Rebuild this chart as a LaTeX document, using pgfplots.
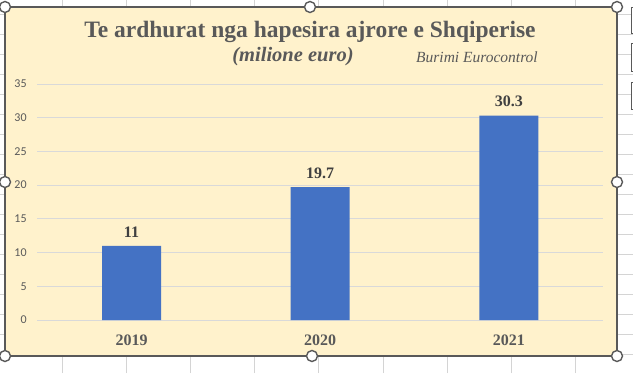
\documentclass[border=0pt]{standalone}
\usepackage{fontspec}
\setmainfont{Liberation Serif}
\newfontfamily\calibri{Carlito}
\usepackage{pgfplots}
\pgfplotsset{compat=1.18}
\definecolor{chartbg}{HTML}{FFF2CC}
\definecolor{txtgray}{HTML}{595959}
\definecolor{lblgray}{HTML}{404040}
\definecolor{barblue}{HTML}{4472C4}
\definecolor{gridc}{HTML}{D9D9D9}
\definecolor{sheetgrid}{HTML}{D4D4D4}
\definecolor{frame}{HTML}{595959}
\begin{document}
\begin{tikzpicture}[x=1pt,y=1pt]
\useasboundingbox (0,0) rectangle (633,373);
\fill[white] (0,0) rectangle (633,373);
% spreadsheet gridlines
\foreach \k in {-1,...,9} {\draw[sheetgrid,line width=0.8pt] ({62+64.2*\k},0) -- ({62+64.2*\k},373);}
\foreach \k in {0,...,18} {\draw[sheetgrid,line width=0.8pt] (0,{373-14-20*\k}) -- (633,{373-14-20*\k});}
% right-side boxes
\foreach \a/\b in {7/33,43/71,82/109} {\fill[white] (631,{373-\a}) rectangle (640,{373-\b}); \draw[frame,line width=0.9pt] (640,{373-\a}) -- (631,{373-\a}) -- (631,{373-\b}) -- (640,{373-\b});}
% chart area
\fill[chartbg] (5,17) rectangle (617,366);
\begin{axis}[
  at={(131.5pt,53pt)}, anchor=origin,
  scale only axis, width=566pt, height=236pt,
  xmin=-0.5, xmax=2.5, ymin=0, ymax=35,
  ytick={0,5,...,35},
  xtick=data, xticklabels={2019,2020,2021},
  ymajorgrids, grid style={gridc, line width=0.8pt},
  axis line style={draw=none},
  major tick length=0pt,
  /pgf/number format/assume math mode=true,
  yticklabel style={font=\calibri\fontsize{12}{14}\selectfont, text=txtgray, xshift=-7pt},
  xticklabel style={font=\bfseries\fontsize{16}{18}\selectfont, text=txtgray, yshift=-11pt},
  ybar, bar width=59pt,
  nodes near coords,
  nodes near coords style={font=\bfseries\fontsize{16}{18}\selectfont, text=lblgray, /pgf/number format/precision=1, yshift=5pt},
  clip=false,
]
\addplot[fill=barblue, draw=none] coordinates {(0,11) (1,19.7) (2,30.3)};
\end{axis}
% titles
\node[anchor=base, text=txtgray, font=\bfseries\fontsize{23.5}{26}\selectfont, inner sep=0] at (310,335) {Te ardhurat nga hapesira ajrore e Shqiperise};
\node[anchor=base, text=txtgray, font=\bfseries\itshape\fontsize{20.5}{23}\selectfont, inner sep=0] at (293,311) {(milione euro)};
\node[anchor=base west, text=txtgray, font=\itshape\fontsize{15.5}{18}\selectfont, inner sep=0] at (416,310) {Burimi Eurocontrol};
% frame
\draw[frame, line width=1.2pt] (5,17) rectangle (617,366);
% handles
\foreach \p in {(5,366),(310,366),(617,366),(5,191),(617,191),(5,17),(312,17),(617,17)} {\draw[frame, fill=white, line width=1.4pt] \p circle (5.5);}
\end{tikzpicture}
\end{document}
